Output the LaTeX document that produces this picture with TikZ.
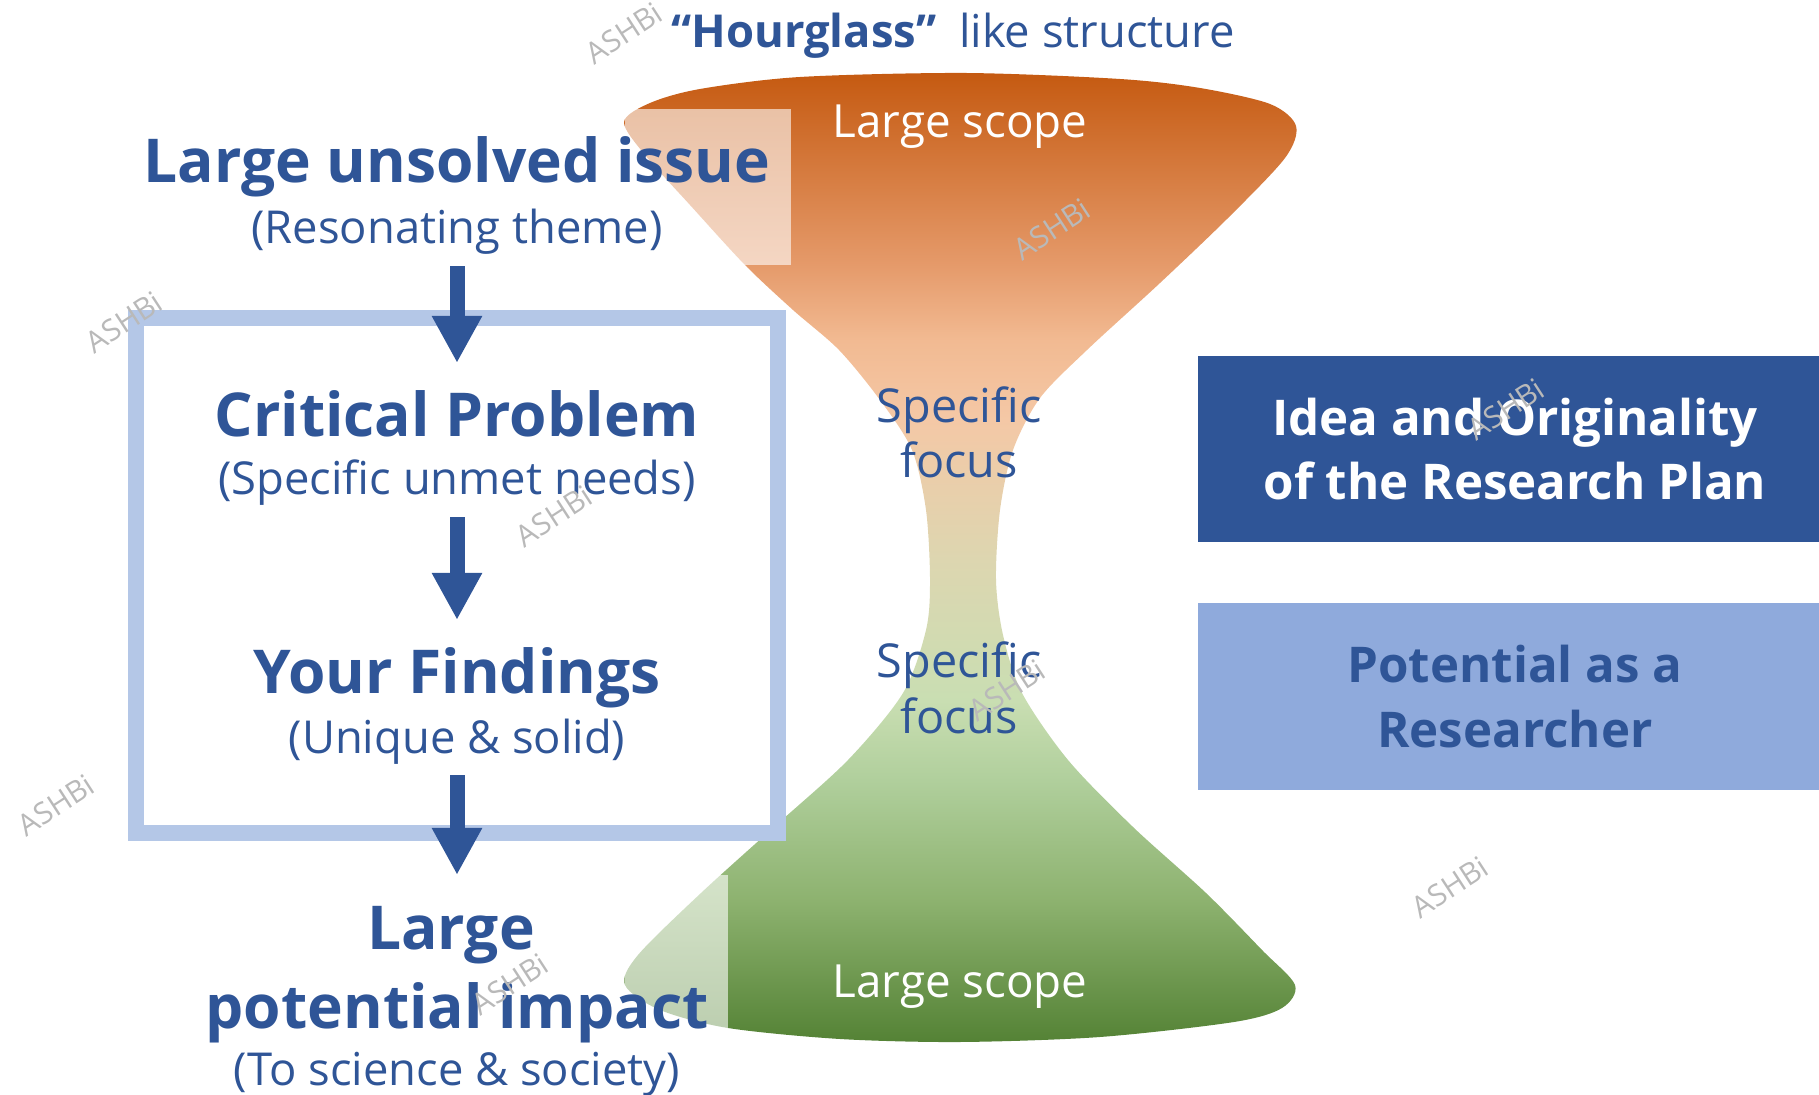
\documentclass[tikz,border=0pt]{standalone}
\usepackage{fontspec}
\setmainfont{Open Sans}
\usetikzlibrary{arrows.meta, positioning}

\definecolor{inkblue}{HTML}{2F5597}
\definecolor{framebl}{HTML}{B4C7E7}
\definecolor{paleblue}{HTML}{8FAADC}
\definecolor{sg0}{HTML}{548235}
\definecolor{sg1}{HTML}{8DB26F}
\definecolor{sg2}{HTML}{B0CF9C}
\definecolor{sg3}{HTML}{C9DEB2}
\definecolor{sg4}{HTML}{DDD6B0}
\definecolor{sg5}{HTML}{F4C8A6}
\definecolor{sg6}{HTML}{F2BA92}
\definecolor{sg7}{HTML}{E59A6A}
\definecolor{sg8}{HTML}{C55A11}
\pgfdeclareverticalshading{sandglass}{100bp}{color(0bp)=(sg0); color(25bp)=(sg0); color(32.3bp)=(sg1); color(38.5bp)=(sg2); color(42.6bp)=(sg3); color(49.9bp)=(sg4); color(57.1bp)=(sg5); color(61.2bp)=(sg6); color(65.1bp)=(sg7); color(75bp)=(sg8); color(100bp)=(sg8)}

\begin{document}
\begin{tikzpicture}[x=0.01cm, y=-0.01cm,
    headtxt/.style={anchor=base, inner sep=0pt, text=inkblue, font=\fontsize{17.2}{21}\selectfont\bfseries},
    subtxt/.style={anchor=base, inner sep=0pt, text=inkblue, font=\fontsize{12.9}{15}\selectfont},
    focustxt/.style={anchor=base, inner sep=0pt, align=center, text=inkblue, font=\fontsize{13.3}{15.9}\selectfont},
    scopetxt/.style={anchor=base, inner sep=0pt, text=white, font=\fontsize{13}{15}\selectfont},
    panel/.style={inner sep=0pt, minimum width=6.34cm, minimum height=1.86cm, align=center, font=\fontsize{14}{18.3}\selectfont\bfseries},
    flowarrow/.style={draw=inkblue, line width=0.15cm, -{Triangle[width=0.47cm,length=0.47cm]}},
    wmark/.style={text=gray!55, rotate=33, font=\fontsize{8.5}{10}\selectfont}]

    \useasboundingbox (0,0) rectangle (1819,1095);

    %% hourglass
    \shade[shading=sandglass] plot[smooth cycle, tension=0.5] coordinates {
        (624,122) (650,103) (700,89) (800,77) (965,73) (1120,79) (1200,88) (1270,104)
        (1296,126) (1285,158) (1229,217) (1160,283) (1087,350) (1040,398) (1013,450)
        (1000,510) (996,580) (1003,635) (1022,693) (1068,760) (1133,827) (1206,893)
        (1262,950) (1295,985) (1282,1008) (1234,1022) (1100,1037) (960,1042) (840,1039)
        (728,1028) (660,1010) (625,985) (638,955) (701,893) (774,827) (848,760)
        (903,693) (926,630) (930,580) (926,510) (912,450) (880,400) (839,350)
        (793,310) (745,265) (690,205) (645,155)};
    \fill[white, fill opacity=0.6] (625,109) rectangle (791,265);
    \fill[white, fill opacity=0.6] (625,875) rectangle (728,1028);

    \node[scopetxt] (sc1) at (960,138) {Large scope};
    \node[scopetxt] (sc2) at (960,997) {Large scope};
    %% base = last line
    \node[focustxt] (f1) at (959,478) {Specific\\focus};
    \node[focustxt] (f2) at (959,733) {Specific\\focus};

    \node[anchor=base, inner sep=0pt, text=inkblue, font=\fontsize{12.9}{16}\selectfont] (title) at (953,48) {\textbf{“Hourglass”}\hspace{0.5em}like structure};

    %% left column
    \node[draw=framebl, line width=0.16cm, inner sep=0pt, minimum width=6.42cm, minimum height=5.15cm] (frame) at (457,575.5) {};
    \node[headtxt] (issue) at (457,183) {Large unsolved issue};
    \node[subtxt] (theme) at (457,244) {(Resonating theme)};
    \node[headtxt] (prob) at (457,437) {Critical Problem};
    \node[subtxt] (needs) at (457,495) {(Specific unmet needs)};
    \node[headtxt] (find) at (457,694) {Your Findings};
    \node[subtxt] (uniq) at (457,753) {(Unique \& solid)};
    \node[headtxt] (large) at (451,949) {Large};
    \node[headtxt] (pot) at (457,1028) {potential impact};
    \node[subtxt] (sci) at (457,1085) {(To science \& society)};

    \draw[flowarrow] ([yshift=-0.22cm]theme.base) -- ([yshift=0.74cm]prob.base);
    \draw[flowarrow] ([yshift=-0.22cm]needs.base) -- ([yshift=0.74cm]find.base);
    \draw[flowarrow] ([yshift=-0.22cm]uniq.base) -- ([yshift=0.74cm]large.base -| uniq.base);

    %% right panels
    \node[panel, fill=inkblue, text=white] (idea) at (1515,449) {Idea and Originality\\of the Research Plan};
    \node[panel, fill=paleblue, text=inkblue] (potl) at (1515,696.5) {Potential as a\\Researcher};

    %% watermarks
    \foreach \wx/\wy in {624/33, 1052/229, 124/322, 554/516, 56/805, 1007/690, 1506/409, 1450/887, 510/984}
        \node[wmark] (w\wx) at (\wx,\wy) {ASHBi};
\end{tikzpicture}
\end{document}
